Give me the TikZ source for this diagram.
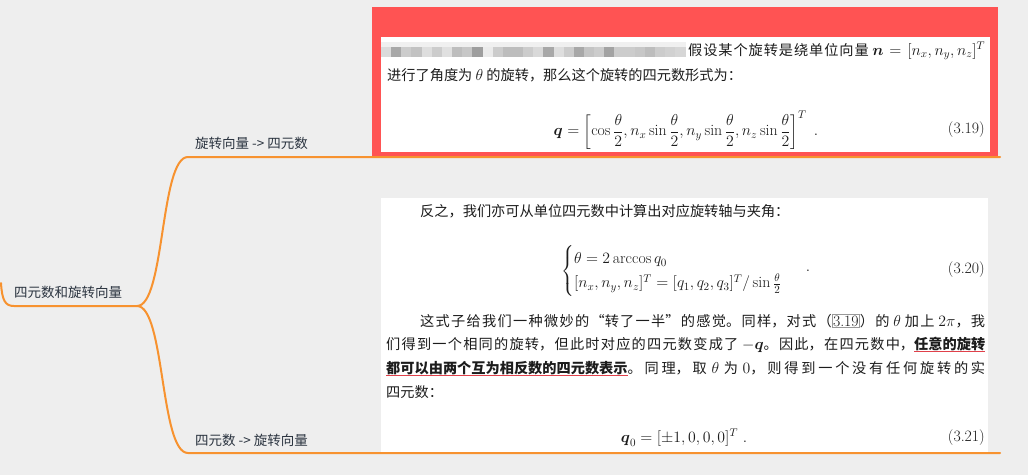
\RequirePackage{fix-cm}
\documentclass[tikz,border=0pt]{standalone}
\usepackage{amsmath}
\usepackage{fontspec}
\usetikzlibrary{positioning}

\newfontfamily\cjk{Noto Sans CJK SC}
\XeTeXlinebreaklocale "zh"
\XeTeXlinebreakskip=0pt plus 3pt

\definecolor{mapbg}{HTML}{EEEEEE}
\definecolor{branch}{HTML}{F7922F}
\definecolor{maptext}{HTML}{2B3440}
\definecolor{selred}{HTML}{FF5353}
\definecolor{ink}{HTML}{1C1C1C}
\definecolor{hlred}{HTML}{E0404A}

\newsavebox\ulbox
\newcommand\mapfont{\cjk\fontsize{13.5}{16}\selectfont}
\newcommand\bookfont{\cjk\fontsize{14.2}{24}\selectfont}
\newcommand\mathfont{\fontsize{15.8}{20}\selectfont}
\newcommand\lm[1]{{\rmfamily\mathfont #1}}
\newcommand\im[1]{{\mathfont$#1$}}
\newcommand\jline[2]{\parbox[b]{#1}{\parfillskip=0pt\relax #2}}
\newcommand\redul[1]{\leavevmode\sbox\ulbox{\bfseries #1}\rlap{\color{hlred}\rule[-3pt]{\wd\ulbox}{0.8pt}}\usebox\ulbox}
\newcommand\linkbox[1]{{\fboxsep=0.6pt\fboxrule=0.5pt\fcolorbox{black!40}{white}{\lm{#1}}}}

\begin{document}
\begin{tikzpicture}[x=1pt,y=-1pt,
  topic/.style={font=\mapfont, text=maptext, inner sep=0pt, anchor=base west},
  twig/.style={draw=branch, line width=2pt, line cap=round},
  shot/.style={inner sep=0pt, anchor=north west},
  book/.style={font=\bookfont, text=ink, inner sep=0pt, anchor=base west},
  eqn/.style={font=\mathfont, text=ink, inner sep=0pt},
]
\useasboundingbox (0,0) rectangle (1028,475);
\fill[mapbg] (0,0) rectangle (1028,475);

% === mind map topics ===
\node[topic] (root) at (14,297) {四元数和旋转向量};
\node[topic] (vec2q) at (195,148) {旋转向量 -> 四元数};
\node[topic] (q2vec) at (195,445) {四元数 -> 旋转向量};

\coordinate (edge) at (1,283);
\coordinate (hub) at (137,306);
\coordinate (upA) at (188,157);
\coordinate (upB) at (1000,157);
\coordinate (dnA) at (188,453);
\coordinate (dnB) at (1000,453);

% === branches ===
\draw[twig] (edge) .. controls (2,300) and (5,306) .. ++(13,23) -- (hub);
\draw[twig] (hub) .. controls (165,306) and (160,157) .. (upA) -- (upB);
\draw[twig] (hub) .. controls (165,306) and (160,453) .. (dnA) -- (dnB);

% === first picture: vector -> quaternion (selected) ===
\node[shot, fill=selred, minimum width=626pt, minimum height=149pt] (sel) at (372,7) {};
\node[shot, fill=white, minimum width=609pt, minimum height=115pt] (img1) at (381,37) {};

% blurred part of the first line
\fill[black!6] (381,42) rectangle (686,47);
\foreach \g [count=\i from 0] in {14,34,20,24,13,20,12,26,22,38,8,20,26,26,20,15,34,13,20,34,23,20,36,20,20,22,26,20,18,16}
  \fill[black!\g] ({381+\i*10.15},47) rectangle ++(10.15,10);

\node[book] (t1) at (688,55) {\jline{297pt}{假设某个旋转是绕单位向量 \im{\boldsymbol{n}=[n_x,n_y,n_z]^T}}};
\node[book] (t2) at (387,80) {进行了角度为 \im{\theta} 的旋转，那么这个旋转的四元数形式为：};
\node[eqn] (e319) at (686,130) {$\displaystyle \boldsymbol{q}=\left[\cos\frac{\theta}{2}, n_x\sin\frac{\theta}{2}, n_y\sin\frac{\theta}{2}, n_z\sin\frac{\theta}{2}\right]^T\ .$};
\node[eqn, anchor=east] (n319) at (985,130) {(3.19)};

% === second picture: quaternion -> vector ===
\node[shot, fill=white, minimum width=607pt, minimum height=254pt] (img2) at (381,198) {};

\node[book] (b1) at (420,216) {反之，我们亦可从单位四元数中计算出对应旋转轴与夹角：};
\node[eqn, anchor=west] (e320) at (561,271) {$\begin{cases}\theta = 2\arccos q_0\\ [n_x,n_y,n_z]^T=[q_1,q_2,q_3]^T/\sin\frac{\theta}{2}\end{cases}$};
\node[eqn] (dot320) at (808,271) {$.$};
\node[eqn, anchor=east] (n320) at (985,270) {(3.20)};

\node[book] (p1) at (420,326) {\jline{565pt}{这式子给我们一种微妙的“转了一半”的感觉。同样，对式（\linkbox{3.19}）的 \im{\theta} 加上 \im{2\pi}，我}};
\node[book] (p2) at (386,349) {\jline{599pt}{们得到一个相同的旋转，但此时对应的四元数变成了 \im{-\boldsymbol{q}}。因此，在四元数中，\redul{任意的旋转}}};
\node[book] (p3) at (386,373) {\jline{599pt}{\redul{都可以由两个互为相反数的四元数表示}。同理，取 \im{\theta} 为 \im{0}，则得到一个没有任何旋转的实}};
\node[book] (p4) at (386,397) {四元数：};

\node[eqn] (e321) at (684,438) {$\boldsymbol{q}_0=[\pm1,0,0,0]^T\ .$};
\node[eqn, anchor=east] (n321) at (985,438) {(3.21)};
\end{tikzpicture}
\end{document}
